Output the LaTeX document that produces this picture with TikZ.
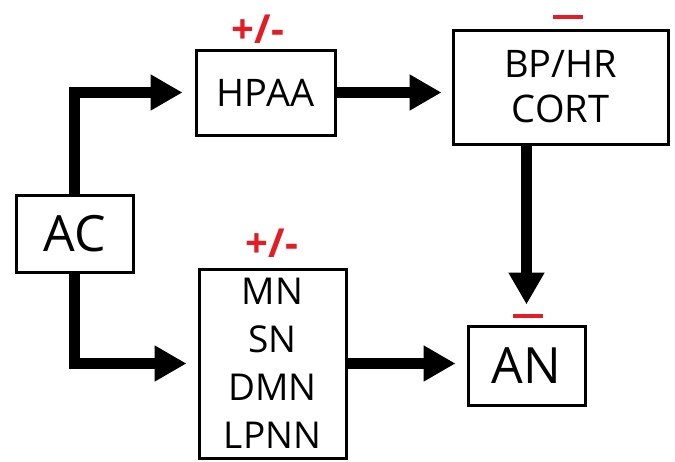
\documentclass[tikz,border=0pt]{standalone}
\usepackage{fontspec}
\setmainfont{Open Sans}
\usepackage{xcolor}
\usepackage{tikz}
\usetikzlibrary{arrows.meta, positioning, calc}
\definecolor{SignRed}{RGB}{228, 28, 36}

\begin{document}
\begin{tikzpicture}[x=1pt, y=-1pt,
    box/.style={draw=black, line width=3pt, fill=white, inner sep=0pt, align=center},
    flow/.style={line width=11pt, -{Triangle[length=32pt, width=34pt]}},
    sign/.style={text=SignRed, font=\fontsize{40}{42}\selectfont\bfseries, inner sep=0pt}]
  \useasboundingbox (0,0) rectangle (675,461);

  % boxes
  \node[box, minimum width=117pt, minimum height=77pt, font=\fontsize{50}{52}\selectfont] (ac) at (74.5,233.5) {AC};
  \node[box, minimum width=139pt, minimum height=85pt, font=\fontsize{38}{40}\selectfont] (hpaa) at (265.5,92.5) {HPAA};
  \node[box, minimum width=215pt, minimum height=114pt, font=\fontsize{38}{45}\selectfont] (bphr) at (560.5,87) {BP/HR\\CORT};
  \node[box, minimum width=147pt, minimum height=189pt, font=\fontsize{37}{48}\selectfont] (nuclei) at (272.5,363.5) {MN\\SN\\DMN\\LPNN};
  \node[box, minimum width=117pt, minimum height=79pt, font=\fontsize{50}{52}\selectfont] (an) at (526.5,365.5) {AN};

  % signs
  \node[sign] (hpaasign) at (258,29) {+/-};
  \node[sign] (nucleisign) at (272,243) {+/-};
  \node[inner sep=0pt] (bphrsign) at (568,17) {\color{SignRed}\rule{30pt}{3.5pt}};
  \node[inner sep=0pt] (ansign) at (528,316) {\color{SignRed}\rule{30pt}{3.5pt}};

  % arrows
  \draw[flow, shorten >=12pt] (ac.north) |- (hpaa.west);
  \draw[flow, shorten >=11pt] (ac.south) |- (nuclei.west);
  \draw[flow, shorten >=10pt] (hpaa.east) -- (hpaa.east -| bphr.west);
  \draw[flow, shorten >=11pt] (nuclei.east) -- (nuclei.east -| an.west);
  \draw[flow, shorten >=20pt] (an.north |- bphr.south) -- (an.north);
\end{tikzpicture}
\end{document}
